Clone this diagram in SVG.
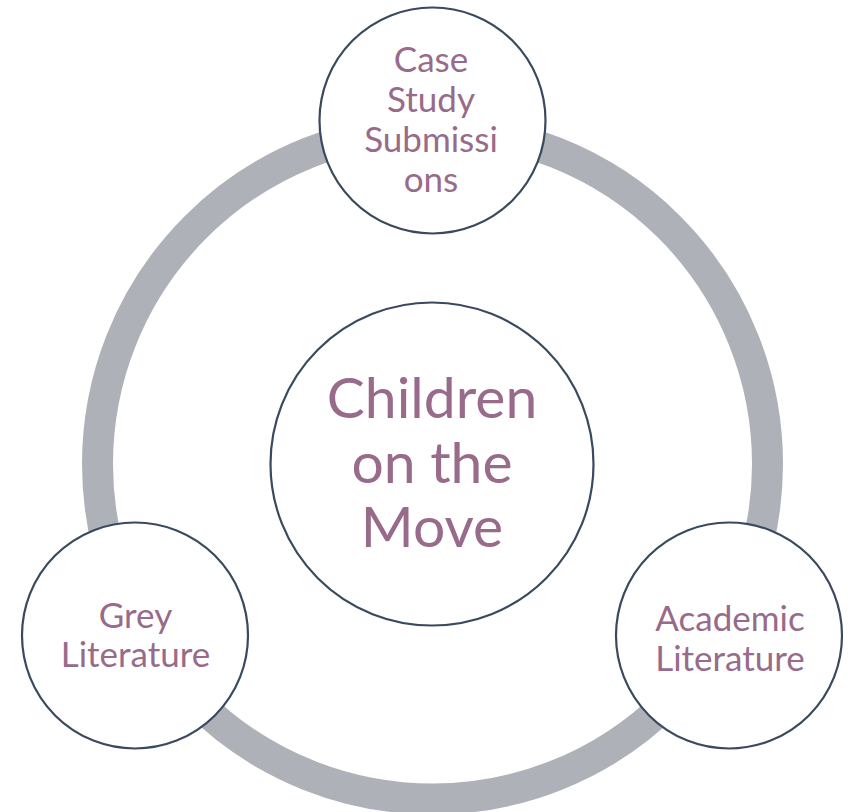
<svg xmlns="http://www.w3.org/2000/svg" width="850" height="812" viewBox="0 0 850 812">
  <style>
    .node { fill: #FFFFFF; stroke: #3A4A5E; stroke-width: 2.2; }
    .lbl { font-family: "Lato", "Noto Sans", "Liberation Sans", sans-serif; fill: #986B8A; text-anchor: middle; }
    .sm { font-size: 35px; }
    .lg { font-size: 57px; }
  </style>
  <rect width="850" height="812" fill="#FFFFFF"/>
  <g id="connectors">
    <circle cx="432.5" cy="464" r="335" fill="none" stroke="#AEB1B8" stroke-width="31"/>
  </g>
  <g id="node-center">
    <circle class="node" cx="432" cy="464" r="161.5"/>
    <text class="lbl lg" x="432" y="418">Children</text>
    <text class="lbl lg" x="432" y="483">on the</text>
    <text class="lbl lg" x="432" y="547">Move</text>
  </g>
  <g id="node-case">
    <circle class="node" cx="432.5" cy="120.5" r="113"/>
    <text class="lbl sm" x="431" y="72">Case</text>
    <text class="lbl sm" x="431" y="112">Study</text>
    <text class="lbl sm" x="431" y="152">Submissi</text>
    <text class="lbl sm" x="431" y="192">ons</text>
  </g>
  <g id="node-grey">
    <circle class="node" cx="135" cy="635.5" r="113"/>
    <text class="lbl sm" x="135.5" y="628">Grey</text>
    <text class="lbl sm" x="135.5" y="667">Literature</text>
  </g>
  <g id="node-academic">
    <circle class="node" cx="729" cy="635.5" r="113"/>
    <text class="lbl sm" x="730" y="631">Academic</text>
    <text class="lbl sm" x="730" y="671">Literature</text>
  </g>
</svg>
